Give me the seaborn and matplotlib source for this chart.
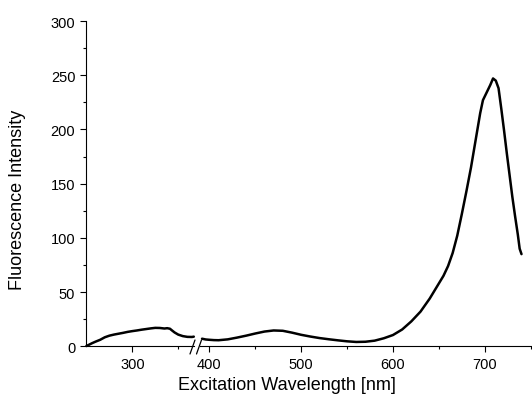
import matplotlib
matplotlib.use("Agg")
import matplotlib.pyplot as plt
from matplotlib.lines import Line2D
from matplotlib.ticker import MultipleLocator, FixedLocator
import seaborn as sns

# ---- data ----
wl_uv = [250, 253, 256, 260, 265, 270, 275, 280, 285, 290, 295, 300, 305, 310,
         315, 320, 325, 330, 335, 338, 341, 343, 346, 350, 355, 360, 365, 367]
fi_uv = [0.3, 1.5, 2.8, 4.3, 6.0, 8.3, 9.8, 10.8, 11.6, 12.4, 13.3, 14.0, 14.6, 15.3,
         15.9, 16.5, 17.0, 16.9, 16.4, 16.7, 16.2, 14.8, 12.8, 10.8, 9.4, 8.7, 8.6, 8.9]

wl_vis = [392, 396, 400, 405, 410, 420, 430, 440, 450, 460, 470, 480, 490, 500,
          510, 520, 530, 540, 550, 560, 570, 580, 590, 600, 610, 620, 630, 640,
          650, 655, 660, 665, 670, 675, 680, 685, 690, 695, 698, 702, 706, 709, 712,
          715, 718, 721, 724, 727, 730, 733, 736, 738, 740]
fi_vis = [7.0, 6.3, 6.0, 5.7, 5.6, 6.4, 8.0, 9.8, 11.8, 13.6, 14.6, 14.3, 12.6, 10.6,
          9.0, 7.6, 6.5, 5.5, 4.6, 4.0, 4.2, 5.2, 7.4, 10.4, 15.5, 23, 32, 44,
          58, 65, 74, 86, 102, 122, 143, 165, 190, 215, 227, 234, 241, 247, 245,
          238, 219, 199, 178, 158, 138, 120, 103, 90, 85]

xlabel = "Excitation Wavelength [nm]"
ylabel = "Fluorescence Intensity"

# ---- style ----
sns.set_theme(style="ticks")
plt.rcParams['font.family'] = ['Liberation Sans', 'DejaVu Sans']
plt.rcParams['axes.edgecolor'] = 'black'
plt.rcParams['xtick.color'] = 'black'
plt.rcParams['ytick.color'] = 'black'
plt.rcParams['text.color'] = 'black'
plt.rcParams['axes.labelcolor'] = 'black'

W, H = 532, 402
fig = plt.figure(figsize=(W / 100, H / 100), dpi=100)

s = 0.918            # px per nm
y0, ytop = 347.3, 22.0
b = (H - y0) / H
h = (y0 - ytop) / H
x1 = 86.4
x2 = 200.2
ax1 = fig.add_axes([x1 / W, b, (367 - 250) * s / W, h])
ax2 = fig.add_axes([x2 / W, b, (750 - 390) * s / W, h], sharey=ax1)

sns.lineplot(x=wl_uv, y=fi_uv, ax=ax1, color='black', linewidth=1.8)
sns.lineplot(x=wl_vis, y=fi_vis, ax=ax2, color='black', linewidth=1.8)
for ax in (ax1, ax2):
    for ln in ax.lines:
        ln.set_clip_on(False)

ax1.set_xlim(250, 367)
ax2.set_xlim(390, 750)
ax1.set_ylim(0, 300)

ax1.xaxis.set_major_locator(FixedLocator([300]))
ax1.xaxis.set_minor_locator(FixedLocator([350]))
ax2.xaxis.set_major_locator(FixedLocator([400, 500, 600, 700]))
ax2.xaxis.set_minor_locator(FixedLocator([450, 550, 650, 750]))
ax1.yaxis.set_major_locator(MultipleLocator(50))
ax1.yaxis.set_minor_locator(MultipleLocator(25))

for ax in (ax1, ax2):
    ax.spines['top'].set_visible(False)
    ax.spines['right'].set_visible(False)
    for sp in ax.spines.values():
        sp.set_linewidth(0.8)
    ax.tick_params(which='major', direction='out', length=4.5, width=0.8,
                   labelsize=10.5, pad=3.5)
    ax.tick_params(which='minor', direction='out', length=2.3, width=0.8)
    ax.set_xlabel("")
    ax.set_ylabel("")

ax2.spines['left'].set_visible(False)
ax2.tick_params(axis='y', which='both', left=False, labelleft=False)

# break marks on the x axis
for xa, xb in ((190.0, 195.0), (196.5, 201.5)):
    fig.add_artist(Line2D([xa / W, xb / W], [(H - 355) / H, (H - 341) / H],
                          transform=fig.transFigure, color='black', lw=0.9))

fig.text(287 / W, (H - 386) / H, xlabel, ha='center', va='center', fontsize=13)
fig.text(18 / W, (H - 200) / H, ylabel, ha='center', va='center',
         rotation=90, fontsize=13)

fig.savefig("out.png", dpi=100)
